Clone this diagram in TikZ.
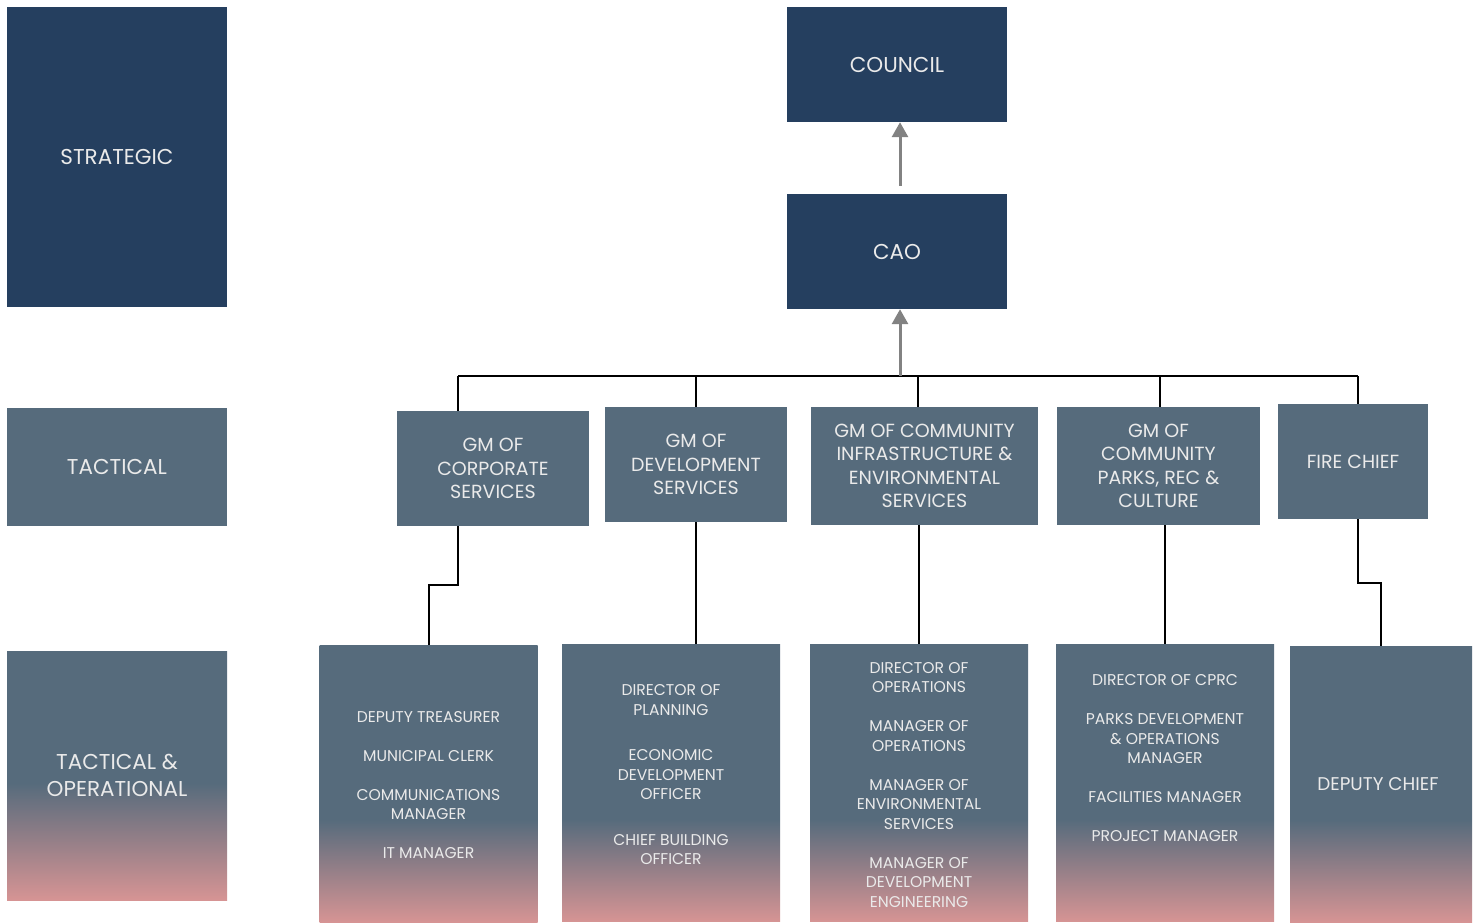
\documentclass[tikz,border=0pt]{standalone}
\usepackage{fontspec}
\setmainfont{Poppins}
\usepackage{xcolor}
\usetikzlibrary{arrows.meta,positioning}

\definecolor{navy}{HTML}{253F5F}
\definecolor{slate}{HTML}{566B7C}
\definecolor{rose}{HTML}{D69494}
\definecolor{paleink}{HTML}{EAEAEA}
\definecolor{arrowgray}{HTML}{828282}
\pgfdeclareverticalshading{levelfade}{100bp}{color(0bp)=(rose); color(25bp)=(rose); color(48.5bp)=(slate); color(100bp)=(slate)}
\pgfdeclareverticalshading{stafffade}{100bp}{color(0bp)=(rose); color(25bp)=(rose); color(43.5bp)=(slate); color(100bp)=(slate)}

\begin{document}
\begin{tikzpicture}[
    x=1pt,y=-1pt,
    >={Triangle[length=15pt,width=16pt]},
    uplink/.style={->,line width=3pt,draw=arrowgray,color=arrowgray},
    link/.style={line width=2pt,draw=black},
    level/.style={minimum width=220pt,inner sep=0pt,align=center,
      text=paleink,font=\fontsize{21.5}{27}\selectfont},
    board/.style={fill=navy,minimum width=220pt,minimum height=115pt,inner sep=0pt,
      text=paleink,font=\fontsize{21.5}{27}\selectfont},
    manager/.style={fill=slate,minimum height=115pt,inner sep=0pt,align=center,
      text=paleink,font=\fontsize{19}{23.5}\selectfont},
    staff/.style={shading=stafffade,minimum width=218pt,minimum height=277pt,inner sep=0pt},
    stafftext/.style={align=center,text=paleink,font=\fontsize{15.6}{19.5}\selectfont}
  ]
    \useasboundingbox (0,0) rectangle (1480,922);

    % levels
    \node[level,fill=navy,minimum height=300pt] (strategic) at (117,157) {STRATEGIC};
    \node[level,fill=slate,minimum height=118pt] (tactical) at (117,467) {TACTICAL};
    \node[level,shading=levelfade,minimum height=249pt] (operational) at (117,775.5)
      {TACTICAL \&\\OPERATIONAL};

    % board
    \node[board] (council) at (897,64.5) {COUNCIL};
    \node[board] (cao) at (897,251.5) {CAO};
    \draw[uplink] ([xshift=3pt,yshift=8pt]cao.north) -- ([xshift=3pt]council.south);

    % general managers
    \node[manager,minimum width=192pt] (corporate) at (493,468.5) {GM OF\\CORPORATE\\SERVICES};
    \node[manager,minimum width=182pt] (development) at (696,464.5) {GM OF\\DEVELOPMENT\\SERVICES};
    \node[manager,minimum width=227pt,minimum height=118pt] (infra) at (924.5,466)
      {GM OF COMMUNITY\\INFRASTRUCTURE \&\\ENVIRONMENTAL\\SERVICES};
    \node[manager,minimum width=203pt,minimum height=118pt] (parks) at (1158.5,466)
      {GM OF\\COMMUNITY\\PARKS, REC \&\\CULTURE};
    \node[manager,minimum width=150pt] (firechief) at (1353,461.5) {FIRE CHIEF};

    \coordinate (busleft) at (458,376);
    \coordinate (busright) at (1358,376);
    \coordinate (busmid) at (900,376);
    \draw[link] (busleft) -- (busright);
    \draw[link] (busleft) -- (busleft |- corporate.north);
    \draw[link] (development.north |- busleft) -- (development.north);
    \draw[link] ([xshift=-6.5pt]infra.north |- busleft) -- ([xshift=-6.5pt]infra.north);
    \draw[link] ([xshift=1.5pt]parks.north |- busleft) -- ([xshift=1.5pt]parks.north);
    \draw[link] (busright) -- (busright |- firechief.north);
    \draw[uplink] (busmid) -- (busmid |- cao.south);

    % staff
    \node[staff] (corpstaff) at (428.5,783.5) {};
    \node[staff] (devstaff) at (671,783) {};
    \node[staff] (infrastaff) at (919,783) {};
    \node[staff] (parksstaff) at (1165,783) {};
    \node[staff,minimum width=182pt,minimum height=276pt] (deputy) at (1381,784) {};

    \node[stafftext] (corplist) at (corpstaff |- 0,785)
      {DEPUTY TREASURER\\[19.5pt]MUNICIPAL CLERK\\[19.5pt]COMMUNICATIONS\\MANAGER\\[19.5pt]IT MANAGER};
    \node[stafftext] (devlist) at (devstaff |- 0,775)
      {DIRECTOR OF\\PLANNING\\[26pt]ECONOMIC\\DEVELOPMENT\\OFFICER\\[26pt]CHIEF BUILDING\\OFFICER};
    \node[stafftext] (infralist) at (infrastaff |- 0,785)
      {DIRECTOR OF\\OPERATIONS\\[19.5pt]MANAGER OF\\OPERATIONS\\[19.5pt]MANAGER OF\\ENVIRONMENTAL\\SERVICES\\[19.5pt]MANAGER OF\\DEVELOPMENT\\ENGINEERING};
    \node[stafftext] (parkslist) at (parksstaff |- 0,758.5)
      {DIRECTOR OF CPRC\\[19.5pt]PARKS DEVELOPMENT\\\& OPERATIONS\\MANAGER\\[19.5pt]FACILITIES MANAGER\\[19.5pt]PROJECT MANAGER};
    \node[stafftext,font=\fontsize{18.4}{23.5}\selectfont] (deputylist) at (1378,784) {DEPUTY CHIEF};

    \draw[link] ([xshift=-35pt]corporate.south) -- ++(0,59) -| (corpstaff.north);
    \draw[link] (development.south) -- (development.south |- devstaff.north);
    \draw[link] (infrastaff.north |- infra.south) -- (infrastaff.north);
    \draw[link] (parksstaff.north |- parks.south) -- (parksstaff.north);
    \draw[link] ([xshift=5pt]firechief.south) -- ++(0,64) -| (deputy.north);
  \end{tikzpicture}
\end{document}
